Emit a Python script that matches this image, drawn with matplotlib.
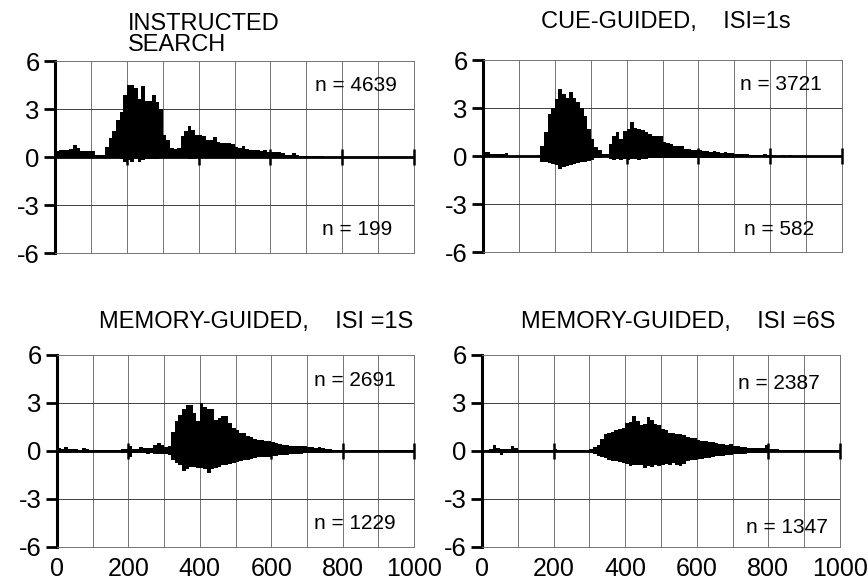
import numpy as np
import matplotlib
matplotlib.use('Agg')
from matplotlib import pyplot as plt

plt.rcParams['font.family'] = ['Liberation Sans', 'DejaVu Sans']
plt.rcParams['axes.unicode_minus'] = False

# bin edges in ms (10 ms bins)
edges = np.arange(0, 1001, 10)

titles = ['INSTRUCTED\nSEARCH', 'CUE-GUIDED,    ISI=1s',
          'MEMORY-GUIDED,    ISI =1S', 'MEMORY-GUIDED,    ISI =6S']
n_up = ['n = 4639', 'n = 3721', 'n = 2691', 'n = 2387']
n_down = ['n = 199', 'n = 582', 'n = 1229', 'n = 1347']

instructed_pos = [0.4, 0.45, 0.45, 0.45, 0.5, 0.75, 0.55, 0.4, 0.37, 0.35,
                  0.35, 0.15, 0.15, 0.15, 0.6, 1.2, 1.6, 2.3, 2.8, 3.9,
                  4.5, 4.5, 4.3, 3.6, 4.45, 3.5, 3.5, 3.9, 3.45, 3.0,
                  1.4, 1.05, 0.55, 0.5, 0.55, 1.3, 1.6, 1.95, 1.7, 1.4,
                  1.35, 1.3, 1.05, 1.05, 1.25, 0.95, 0.9, 0.85, 0.85, 0.8,
                  0.6, 0.55, 0.7, 0.5, 0.45, 0.45, 0.45, 0.4, 0.45, 0.3,
                  0.3, 0.3, 0.3, 0.25, 0.1, 0.15, 0.22, 0.15, 0.06, 0.05,
                  0.05, 0.05, 0.04, 0.05, 0.04, 0.02, 0.02, 0.02, 0.02, 0.01,
                  0.01, 0.0, 0.0, 0.0, 0.0, 0.0, 0.0, 0.0, 0.0, 0.0,
                  0.0, 0.0, 0.0, 0.0, 0.0, 0.0, 0.0, 0.0, 0.0, 0.0]
instructed_neg = [-0.03, -0.03, -0.03, -0.03, -0.03, -0.03, -0.03, -0.03, -0.03, -0.03,
                  -0.03, -0.02, -0.02, -0.02, -0.03, -0.05, -0.05, -0.08, -0.1, -0.3,
                  -0.2, -0.3, -0.1, -0.3, -0.2, -0.1, -0.1, -0.12, -0.1, -0.08,
                  -0.08, -0.05, -0.05, -0.05, -0.05, -0.05, -0.08, -0.1, -0.1, -0.05,
                  -0.05, -0.05, -0.05, -0.05, -0.05, -0.05, -0.04, -0.04, -0.04, -0.04,
                  -0.04, -0.03, -0.03, -0.03, -0.03, -0.03, -0.03, -0.03, -0.03, -0.03,
                  -0.03, -0.02, -0.02, -0.02, -0.02, -0.02, -0.02, -0.02, -0.02, -0.02,
                  -0.01, -0.01, -0.01, -0.01, -0.01, -0.01, -0.01, -0.01, -0.01, -0.01,
                  0.0, 0.0, 0.0, 0.0, 0.0, 0.0, 0.0, 0.0, 0.0, 0.0,
                  0.0, 0.0, 0.0, 0.0, 0.0, 0.0, 0.0, 0.0, 0.0, 0.0]

cue_pos = [0.25, 0.25, 0.1, 0.1, 0.1, 0.1, 0.17, 0.03, 0.02, 0.02,
           0.02, 0.02, 0.02, 0.02, 0.02, 0.05, 0.6, 1.5, 2.6, 3.0,
           3.55, 4.2, 3.9, 3.6, 4.0, 3.65, 3.35, 3.0, 2.5, 1.7,
           1.05, 0.55, 0.35, 0.15, 0.15, 0.75, 1.25, 1.5, 1.05, 1.55,
           1.7, 2.15, 1.75, 1.7, 1.6, 1.5, 1.4, 1.25, 1.25, 1.25,
           0.85, 0.8, 0.75, 0.65, 0.65, 0.6, 0.45, 0.45, 0.4, 0.4,
           0.35, 0.3, 0.3, 0.25, 0.3, 0.25, 0.2, 0.25, 0.2, 0.2,
           0.12, 0.1, 0.1, 0.12, 0.08, 0.08, 0.06, 0.08, 0.1, 0.06,
           0.04, 0.03, 0.03, 0.04, 0.03, 0.05, 0.03, 0.02, 0.02, 0.02,
           0.02, 0.02, 0.02, 0.02, 0.02, 0.02, 0.02, 0.02, 0.02, 0.02]
cue_neg = [-0.05, -0.05, -0.03, -0.03, -0.03, -0.03, -0.03, -0.03, -0.03, -0.03,
           -0.03, -0.03, -0.03, -0.03, -0.03, -0.05, -0.35, -0.4, -0.45, -0.5,
           -0.55, -0.8, -0.7, -0.6, -0.55, -0.5, -0.45, -0.4, -0.35, -0.3,
           -0.25, -0.15, -0.1, -0.05, -0.05, -0.2, -0.25, -0.2, -0.25, -0.2,
           -0.25, -0.2, -0.2, -0.25, -0.2, -0.2, -0.15, -0.15, -0.15, -0.15,
           -0.12, -0.12, -0.12, -0.12, -0.12, -0.12, -0.12, -0.12, -0.12, -0.12,
           -0.1, -0.1, -0.1, -0.1, -0.1, -0.1, -0.1, -0.1, -0.1, -0.1,
           -0.06, -0.06, -0.06, -0.06, -0.06, -0.06, -0.06, -0.06, -0.06, -0.06,
           -0.03, -0.03, -0.03, -0.03, -0.03, -0.03, -0.03, -0.03, -0.03, -0.03,
           -0.03, -0.03, -0.03, -0.03, -0.03, -0.03, -0.03, -0.03, -0.03, -0.03]

mem1_pos = [0.17, 0.12, 0.27, 0.1, 0.1, 0.1, 0.08, 0.17, 0.12, 0.04,
            0.04, 0.03, 0.03, 0.03, 0.03, 0.04, 0.05, 0.08, 0.1, 0.15,
            0.3, 0.12, 0.12, 0.25, 0.17, 0.17, 0.2, 0.35, 0.48, 0.4,
            0.27, 0.3, 1.2, 1.85, 2.25, 2.65, 2.85, 2.9, 2.35, 1.85,
            3.0, 2.75, 2.6, 2.6, 1.95, 2.05, 2.2, 2.2, 1.75, 1.45,
            1.3, 1.15, 1.1, 0.95, 0.9, 0.75, 0.7, 0.7, 0.65, 0.6,
            0.55, 0.5, 0.45, 0.4, 0.35, 0.3, 0.3, 0.3, 0.28, 0.3,
            0.25, 0.22, 0.2, 0.22, 0.2, 0.12, 0.1, 0.08, 0.06, 0.06,
            0.08, 0.04, 0.04, 0.04, 0.04, 0.04, 0.04, 0.04, 0.04, 0.04,
            0.04, 0.04, 0.04, 0.04, 0.04, 0.04, 0.04, 0.04, 0.04, 0.04]
mem1_neg = [-0.12, -0.1, -0.15, -0.1, -0.08, -0.1, -0.08, -0.15, -0.1, -0.04,
            -0.03, -0.03, -0.03, -0.03, -0.03, -0.03, -0.03, -0.08, -0.1, -0.12,
            -0.35, -0.12, -0.15, -0.12, -0.15, -0.2, -0.15, -0.2, -0.18, -0.2,
            -0.2, -0.25, -0.55, -0.75, -0.9, -1.25, -1.1, -1.0, -1.0, -1.05,
            -1.05, -1.1, -1.35, -1.15, -1.05, -1.0, -0.9, -0.85, -0.8, -0.75,
            -0.7, -0.6, -0.55, -0.55, -0.5, -0.45, -0.4, -0.4, -0.38, -0.35,
            -0.3, -0.3, -0.28, -0.25, -0.25, -0.22, -0.2, -0.2, -0.18, -0.15,
            -0.15, -0.14, -0.12, -0.12, -0.12, -0.1, -0.1, -0.08, -0.08, -0.08,
            -0.05, -0.05, -0.05, -0.05, -0.05, -0.05, -0.05, -0.05, -0.05, -0.05,
            -0.05, -0.05, -0.05, -0.05, -0.05, -0.05, -0.05, -0.05, -0.05, -0.05]

mem6_pos = [0.08, 0.08, 0.1, 0.35, 0.2, 0.15, 0.12, 0.12, 0.3, 0.2,
            0.03, 0.03, 0.03, 0.03, 0.03, 0.03, 0.03, 0.03, 0.03, 0.05,
            0.1, 0.03, 0.03, 0.03, 0.03, 0.03, 0.08, 0.08, 0.08, 0.08,
            0.1, 0.25, 0.4, 0.75, 1.05, 1.1, 1.2, 1.3, 1.35, 1.45,
            1.75, 1.8, 2.2, 1.85, 1.65, 1.7, 2.1, 1.95, 1.7, 1.65,
            1.35, 1.3, 1.15, 1.15, 1.05, 1.05, 1.0, 0.85, 0.8, 0.8,
            0.7, 0.65, 0.6, 0.55, 0.55, 0.5, 0.45, 0.42, 0.4, 0.45,
            0.3, 0.28, 0.25, 0.25, 0.2, 0.2, 0.18, 0.2, 0.2, 0.35,
            0.12, 0.1, 0.1, 0.08, 0.06, 0.06, 0.05, 0.05, 0.06, 0.05,
            0.05, 0.06, 0.05, 0.05, 0.04, 0.05, 0.05, 0.04, 0.05, 0.05]
mem6_neg = [-0.05, -0.08, -0.1, -0.12, -0.15, -0.25, -0.15, -0.1, -0.12, -0.1,
            -0.03, -0.03, -0.03, -0.03, -0.03, -0.03, -0.03, -0.03, -0.03, -0.03,
            -0.05, -0.03, -0.03, -0.03, -0.03, -0.05, -0.05, -0.05, -0.05, -0.05,
            -0.1, -0.2, -0.3, -0.35, -0.45, -0.55, -0.6, -0.65, -0.7, -0.75,
            -0.8, -0.95, -0.85, -0.85, -0.9, -1.05, -0.95, -1.0, -0.9, -0.95,
            -0.9, -0.8, -0.85, -0.75, -0.9, -0.95, -0.8, -0.6, -0.58, -0.55,
            -0.5, -0.48, -0.45, -0.45, -0.35, -0.3, -0.3, -0.32, -0.28, -0.25,
            -0.2, -0.2, -0.18, -0.2, -0.15, -0.15, -0.12, -0.12, -0.1, -0.15,
            -0.08, -0.08, -0.07, -0.06, -0.06, -0.05, -0.05, -0.05, -0.05, -0.05,
            -0.05, -0.05, -0.05, -0.05, -0.05, -0.05, -0.05, -0.05, -0.05, -0.05]

positives = [instructed_pos, cue_pos, mem1_pos, mem6_pos]
negatives = [instructed_neg, cue_neg, mem1_neg, mem6_neg]

# layout (figure fractions) and annotation spots (axes fractions)
rects = [[0.0634, 0.5675, 0.4136, 0.3282],
         [0.5565, 0.5692, 0.4136, 0.3282],
         [0.0657, 0.0650, 0.4113, 0.3282],
         [0.5553, 0.0650, 0.4124, 0.3282]]
up_pos = [(0.953, 0.87), (0.944, 0.875), (0.948, 0.867), (0.944, 0.85)]
down_pos = [(0.939, 0.12), (0.922, 0.117), (0.948, 0.12), (0.966, 0.10)]

fig = plt.figure(figsize=(8.68, 5.85), dpi=100)

for i in range(4):
    ax = fig.add_axes(rects[i])
    ax.stairs(positives[i], edges, fill=True, color='k', zorder=3,
              antialiased=False)
    ax.stairs(negatives[i], edges, fill=True, color='k', zorder=3,
              antialiased=False)
    ax.axhline(0, color='k', linewidth=2, zorder=4)
    marks = np.arange(200, 1001, 200)
    ax.plot(marks, np.zeros(len(marks)), '|', color='k', ms=11, mew=1.8,
            zorder=4, clip_on=False)

    ax.set_xlim(0, 1000)
    ax.set_ylim(-6, 6)
    ax.set_yticks([-6, -3, 0, 3, 6])
    ax.set_xticks(np.arange(0, 1001, 200))
    for x in range(100, 1000, 100):
        ax.axvline(x, color='0.45', linewidth=0.7, zorder=1)
    for y in [-3, 3]:
        ax.axhline(y, color='0.25', linewidth=0.7, zorder=1)

    for s in ['top', 'right', 'bottom']:
        ax.spines[s].set_color('0.45')
        ax.spines[s].set_linewidth(0.7)
    ax.spines['left'].set_linewidth(2.2)
    ax.spines['left'].set_color('k')
    ax.tick_params(axis='y', direction='out', length=8, width=2,
                   labelsize=18.5, pad=3)
    ax.tick_params(axis='x', length=0, labelsize=18, pad=7)
    if i < 2:
        ax.set_xticklabels([])

    ax.text(up_pos[i][0], up_pos[i][1], n_up[i], transform=ax.transAxes,
            ha='right', va='center', fontsize=15)
    ax.text(down_pos[i][0], down_pos[i][1], n_down[i], transform=ax.transAxes,
            ha='right', va='center', fontsize=15)

fig.text(0.1475, 0.978, titles[0], ha='left', va='top', fontsize=17,
         linespacing=0.95)
fig.text(0.767, 0.962, titles[1], ha='center', va='center', fontsize=17)
fig.text(0.295, 0.4496, titles[2], ha='center', va='center', fontsize=17)
fig.text(0.781, 0.4496, titles[3], ha='center', va='center', fontsize=17)

fig.savefig('out.png', dpi=100)
